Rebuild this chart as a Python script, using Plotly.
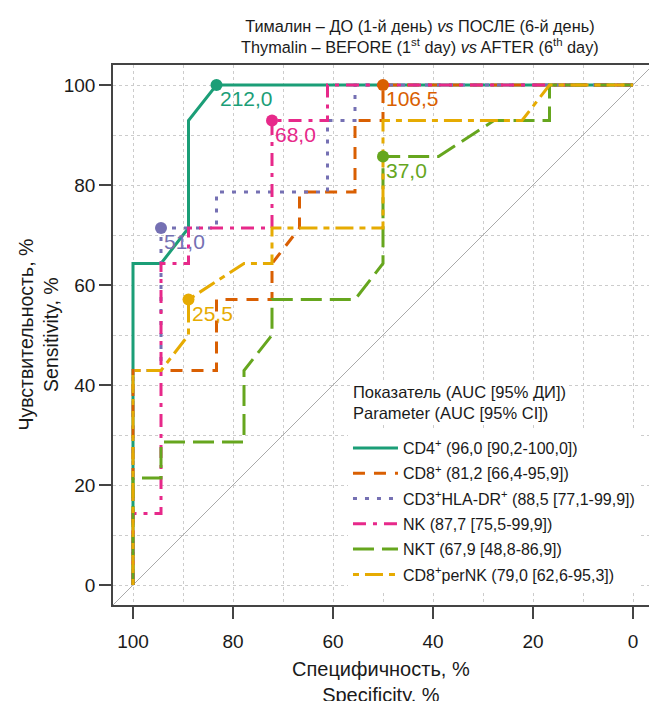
import plotly.graph_objects as go

# ---------------- data ----------------
series_names = ["CD4<sup>+</sup>", "CD8<sup>+</sup>", "CD3<sup>+</sup>HLA-DR<sup>+</sup>", "NK", "NKT", "CD8<sup>+</sup>perNK"]
auc = [96.0, 81.2, 88.5, 87.7, 67.9, 79.0]
ci_low = [90.2, 66.4, 77.1, 75.5, 48.8, 62.6]
ci_high = [100.0, 95.9, 99.9, 99.9, 86.9, 95.3]

cd4_spec = [100, 100, 94.4, 88.9, 88.9, 83.3, 0]
cd4_sens = [0, 64.3, 64.3, 71.4, 92.9, 100, 100]

cd8_spec = [100, 100, 83.3, 83.3, 72.2, 72.2, 66.7, 66.7, 55.6, 55.6, 50, 50, 0]
cd8_sens = [0, 42.9, 42.9, 57.1, 57.1, 64.3, 71.4, 78.6, 78.6, 92.9, 92.9, 100, 100]

cd3dr_spec = [100, 100, 94.4, 94.4, 83.3, 83.3, 61.1, 61.1, 55.6, 55.6, 0]
cd3dr_sens = [0, 42.9, 42.9, 71.4, 71.4, 78.6, 78.6, 92.9, 92.9, 100, 100]

nk_spec = [100, 100, 94.4, 94.4, 88.9, 88.9, 72.2, 72.2, 61.1, 61.1, 0]
nk_sens = [0, 14.3, 14.3, 64.3, 64.3, 71.4, 71.4, 92.9, 92.9, 100, 100]

nkt_spec = [100, 100, 94.4, 94.4, 77.8, 77.8, 72.2, 72.2, 55.6, 50, 50, 38.9, 27.8, 16.7, 16.7, 0]
nkt_sens = [0, 21.4, 21.4, 28.6, 28.6, 42.9, 50, 57.1, 57.1, 64.3, 85.7, 85.7, 92.9, 92.9, 100, 100]

cd8pnk_spec = [100, 100, 94.4, 88.9, 88.9, 77.8, 72.2, 72.2, 50, 50, 22.2, 16.7, 0]
cd8pnk_sens = [0, 42.9, 42.9, 50, 57.1, 64.3, 64.3, 71.4, 71.4, 92.9, 92.9, 100, 100]

# best thresholds (specificity, sensitivity, cut-off value)
thr_spec = [83.3, 50, 94.4, 72.2, 50, 88.9]
thr_sens = [100, 100, 71.4, 92.9, 85.7, 57.1]
thr_value = [212.0, 106.5, 51.0, 68.0, 37.0, 25.5]

x_ticks = [100, 80, 60, 40, 20, 0]
y_ticks = [0, 20, 40, 60, 80, 100]

# ---------------- style ----------------
colors = ["#1B9E77", "#D95F02", "#7570B3", "#E7298A", "#66A61E", "#E6AB02"]
dashes = ["solid", "12px,9px", "4px,8px", "13px,7px,4px,7px", "21px,8px", "6px,6px,18px,6px"]
FONT = "Liberation Sans, Arial, sans-serif"
TXT = "#1a1a1a"
AX = "#444444"

curves = [(cd4_spec, cd4_sens), (cd8_spec, cd8_sens), (cd3dr_spec, cd3dr_sens),
          (nk_spec, nk_sens), (nkt_spec, nkt_sens), (cd8pnk_spec, cd8pnk_sens)]

def fmt(v):
    return f"{v:.1f}".replace(".", ",")

XR = [104, -3.2]
YR = [-4, 104]

fig = go.Figure()

# chance diagonal
fig.add_trace(go.Scatter(x=XR, y=[100 - v for v in XR], mode="lines",
                         line=dict(color="#aaaaaa", width=1), showlegend=False, hoverinfo="skip"))

for i, (sx, sy) in enumerate(curves):
    label = f"{series_names[i]} ({fmt(auc[i])} [{fmt(ci_low[i])}-{fmt(ci_high[i])}])"
    fig.add_trace(go.Scatter(
        x=sx, y=sy, mode="lines", legendgroup=f"g{i}",
        line=dict(color=colors[i], width=3, dash=dashes[i]),
        name=label))

for i in range(len(thr_spec)):
    fig.add_trace(go.Scatter(x=[thr_spec[i]], y=[thr_sens[i]], mode="markers",
                             marker=dict(color=colors[i], size=12), showlegend=False))
    fig.add_annotation(x=thr_spec[i], y=thr_sens[i], xref="x", yref="y",
                       text=fmt(thr_value[i]), showarrow=False,
                       xanchor="left", yanchor="top", xshift=1, yshift=0,
                       font=dict(family=FONT, size=21, color=colors[i]))

axis_common = dict(showline=True, linecolor=AX, linewidth=1.5, ticks="outside", ticklen=12,
                   tickwidth=1.5, tickcolor=AX, showgrid=True, gridcolor="#cccccc",
                   griddash="dot", gridwidth=1, zeroline=False,
                   tickfont=dict(family=FONT, size=19, color=TXT))

fig.update_xaxes(range=XR, tickvals=x_ticks, mirror=True, ticklabelstandoff=6,
                 minor=dict(dtick=10, tick0=0, showgrid=True, gridcolor="#cccccc", griddash="dot", ticks=""),
                 **axis_common)
fig.update_yaxes(range=YR, tickvals=y_ticks, mirror=False,
                 minor=dict(dtick=10, tick0=0, showgrid=True, gridcolor="#cccccc", griddash="dot", ticks=""),
                 **axis_common)

# title
title_text = ('Тималин – ДО (1-й день) <i>vs</i> ПОСЛЕ (6-й день)<br>'
              'Thymalin – BEFORE (1<sup>st</sup> day) <i>vs</i> AFTER (6<sup>th</sup> day)')
fig.add_annotation(text=title_text, xref="paper", yref="paper", x=0.5728, y=1.0528,
                   xanchor="center", yanchor="middle", showarrow=False,
                   font=dict(family=FONT, size=16.3, color=TXT))

# axis titles
fig.add_annotation(text='Чувствительность, %<br>Sensitivity, %',
                   xref="paper", yref="paper", x=-0.1407, y=0.5, xanchor="center", yanchor="middle",
                   textangle=-90, showarrow=False, font=dict(family=FONT, size=19.5, color=TXT))
fig.add_annotation(text='Специфичность, %<br>Specificity, %',
                   xref="paper", yref="paper", x=0.5, y=-0.1425, xanchor="center", yanchor="middle",
                   showarrow=False, font=dict(family=FONT, size=20, color=TXT))

# legend heading (two lines above the entries)
fig.add_annotation(text='Показатель (AUC [95% ДИ])<br>Parameter (AUC [95% CI])',
                   xref="paper", yref="paper", x=0.444, y=0.3754, xanchor="left", yanchor="middle",
                   align="left", showarrow=False, bgcolor="white",
                   font=dict(family=FONT, size=16.5, color=TXT))

fig.update_layout(
    width=649, height=701,
    margin=dict(l=113, r=0, t=65, b=96, autoexpand=False),
    plot_bgcolor="white", paper_bgcolor="white",
    font=dict(family=FONT, color=TXT),
    legend=dict(x=0.4384, y=0.3222, xanchor="left", yanchor="top", bgcolor="white", borderwidth=0,
                font=dict(family=FONT, size=16, color=TXT), itemwidth=45, tracegroupgap=1.5,
                traceorder="grouped"),
)

fig.write_html("out.html", config={"displayModeBar": False},
               post_script="document.body.style.margin='0px';document.body.style.overflow='hidden';")
